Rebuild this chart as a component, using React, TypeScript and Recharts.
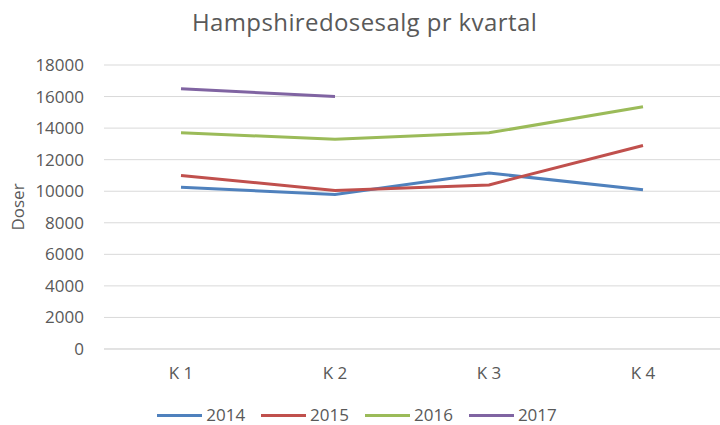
import React from 'react'
import { LineChart, Line, XAxis, YAxis, CartesianGrid, Legend } from 'recharts'

const quarters = ['K 1', 'K 2', 'K 3', 'K 4']
const sales2014 = [10250, 9800, 11150, 10100]
const sales2015 = [11000, 10050, 10400, 12900]
const sales2016 = [13700, 13300, 13700, 15350]
const sales2017 = [16500, 16000, null, null]
const yTicks = [0, 2000, 4000, 6000, 8000, 10000, 12000, 14000, 16000, 18000]

const data = quarters.map((q, i) => ({
  q,
  '2014': sales2014[i],
  '2015': sales2015[i],
  '2016': sales2016[i],
  '2017': sales2017[i]
}))

const series = [
  { key: '2014', color: '#4f81bd' },
  { key: '2015', color: '#c0504d' },
  { key: '2016', color: '#9bbb59' },
  { key: '2017', color: '#8064a2' }
]

const font = 'Open Sans, sans-serif'
const grey = '#595959'

const LegendRow = ({ payload }: any) => (
  <div style={{ display: 'flex', justifyContent: 'center', alignItems: 'center', height: 20, paddingLeft: 10 }}>
    {(payload || []).map((p: any) => (
      <div key={p.value} style={{ display: 'flex', alignItems: 'center', marginRight: 16 }}>
        <div style={{ width: 45, height: 3, background: p.color, marginRight: 4 }} />
        <span style={{ fontSize: 17, color: grey, fontFamily: font, lineHeight: '20px' }}>{p.value}</span>
      </div>
    ))}
  </div>
)

export default function App() {
  return (
    <div style={{ position: 'absolute', left: 0, top: 0, width: 720, height: 425, background: '#fff', fontFamily: font }}>
      <div
        style={{
          position: 'absolute',
          top: 10,
          left: 0,
          width: 729,
          textAlign: 'center',
          fontSize: 24,
          lineHeight: '24px',
          letterSpacing: 0.4,
          color: grey
        }}
      >
        Hampshiredosesalg pr kvartal
      </div>
      <LineChart width={720} height={425} data={data} margin={{ top: 65, right: 0, left: 0, bottom: 0 }}>
        <CartesianGrid vertical={false} stroke="#d9d9d9" />
        <XAxis
          dataKey="q"
          axisLine={{ stroke: '#d9d9d9' }}
          tickLine={false}
          tickSize={0}
          tickMargin={18}
          height={56}
          padding={{ left: 77, right: 77 }}
          tick={{ fill: grey, fontSize: 17, fontFamily: font }}
        />
        <YAxis
          domain={[0, 18000]}
          ticks={yTicks}
          width={104}
          axisLine={false}
          tickLine={false}
          tickSize={0}
          tickMargin={20}
          tick={{ fill: grey, fontSize: 17, fontFamily: font }}
          label={{
            value: 'Doser',
            angle: -90,
            position: 'insideLeft',
            offset: 18,
            fill: grey,
            fontSize: 17,
            fontFamily: font,
            style: { textAnchor: 'middle', fill: grey }
          }}
        />
        <Legend verticalAlign="bottom" height={20} content={<LegendRow />} />
        {series.map((s) => (
          <Line
            key={s.key}
            dataKey={s.key}
            name={s.key}
            stroke={s.color}
            strokeWidth={3}
            dot={false}
            isAnimationActive={false}
          />
        ))}
      </LineChart>
    </div>
  )
}
